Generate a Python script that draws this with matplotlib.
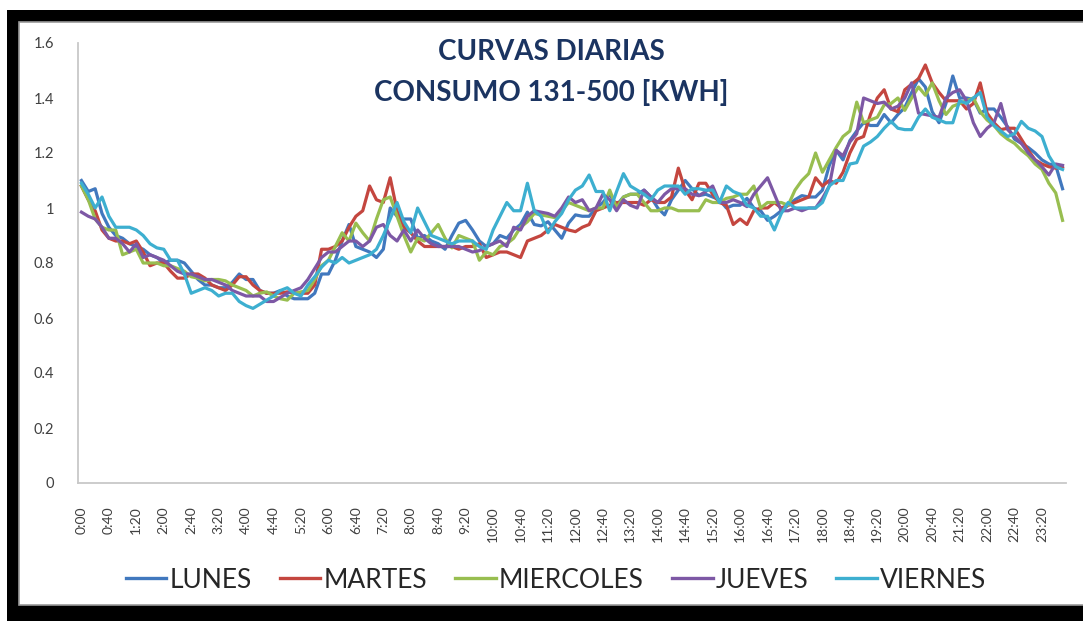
import matplotlib
matplotlib.use("Agg")
import matplotlib.pyplot as plt
from matplotlib.patches import Rectangle
from matplotlib.lines import Line2D

plt.rcParams['font.family'] = ['Lato', 'DejaVu Sans']

# 10-minute categories for one day
times = [f"{i // 6}:{(i % 6) * 10:02d}" for i in range(144)]
tick_step = 4

series_names = ["LUNES", "MARTES", "MIERCOLES", "JUEVES", "VIERNES"]
series_colors = ["#4178BE", "#C4463F", "#98BE50", "#7D58A5", "#3DAFD0"]

lunes = [
    1.10, 1.06, 1.07, 0.98, 0.93, 0.90, 0.89, 0.87, 0.86, 0.85, 0.83, 0.82,
    0.80, 0.81, 0.81, 0.80, 0.77, 0.74, 0.72, 0.72, 0.71, 0.71, 0.73, 0.76,
    0.74, 0.74, 0.70, 0.69, 0.69, 0.70, 0.68, 0.67, 0.67, 0.67, 0.69, 0.76,
    0.76, 0.81, 0.88, 0.94, 0.86, 0.85, 0.84, 0.82, 0.85, 1.00, 0.97, 0.96,
    0.96, 0.89, 0.90, 0.88, 0.87, 0.85, 0.90, 0.945, 0.955, 0.92, 0.88, 0.86,
    0.87, 0.90, 0.89, 0.92, 0.94, 0.985, 0.94, 0.935, 0.95, 0.92, 0.89, 0.945,
    0.975, 0.97, 0.97, 1.00, 1.02, 1.05, 1.01, 1.04, 1.05, 1.05, 1.065, 1.04,
    1.00, 0.975, 1.03, 1.065, 1.10, 1.07, 1.045, 1.05, 1.04, 1.03, 1.00, 1.01,
    1.01, 1.035, 1.00, 0.99, 0.955, 0.97, 0.99, 1.01, 1.03, 1.045, 1.04, 1.04,
    1.065, 1.155, 1.21, 1.175, 1.245, 1.28, 1.31, 1.30, 1.30, 1.34, 1.31, 1.34,
    1.365, 1.42, 1.47, 1.44, 1.35, 1.31, 1.38, 1.48, 1.40, 1.40, 1.395, 1.345,
    1.36, 1.36, 1.33, 1.295, 1.25, 1.235, 1.22, 1.20, 1.175, 1.16, 1.155, 1.07,
]

martes = [
    1.08, 1.03, 0.99, 0.92, 0.89, 0.88, 0.88, 0.87, 0.88, 0.84, 0.79, 0.80,
    0.80, 0.77, 0.745, 0.745, 0.76, 0.76, 0.745, 0.72, 0.71, 0.70, 0.72, 0.75,
    0.75, 0.72, 0.70, 0.69, 0.69, 0.69, 0.695, 0.69, 0.69, 0.69, 0.72, 0.85,
    0.85, 0.86, 0.88, 0.93, 0.97, 0.99, 1.08, 1.03, 1.02, 1.11, 0.99, 0.93,
    0.91, 0.88, 0.86, 0.86, 0.86, 0.86, 0.86, 0.85, 0.86, 0.86, 0.87, 0.82,
    0.83, 0.84, 0.84, 0.83, 0.82, 0.88, 0.89, 0.90, 0.92, 0.94, 0.93, 0.92,
    0.914, 0.93, 0.94, 0.99, 1.00, 1.01, 1.02, 1.02, 1.02, 1.02, 1.01, 1.03,
    1.02, 1.02, 1.04, 1.145, 1.065, 1.03, 1.09, 1.09, 1.05, 1.02, 1.01, 0.94,
    0.96, 0.94, 0.99, 1.00, 1.00, 1.02, 1.00, 1.01, 1.02, 1.03, 1.04, 1.11,
    1.08, 1.10, 1.09, 1.13, 1.20, 1.25, 1.26, 1.34, 1.40, 1.43, 1.36, 1.35,
    1.43, 1.45, 1.47, 1.52, 1.455, 1.42, 1.39, 1.39, 1.39, 1.36, 1.38, 1.455,
    1.345, 1.31, 1.285, 1.29, 1.29, 1.25, 1.21, 1.175, 1.16, 1.15, 1.145, 1.15,
]

miercoles = [
    1.08, 1.03, 0.96, 0.93, 0.92, 0.92, 0.83, 0.84, 0.85, 0.80, 0.80, 0.80,
    0.79, 0.79, 0.78, 0.77, 0.75, 0.745, 0.735, 0.74, 0.74, 0.735, 0.72, 0.71,
    0.70, 0.68, 0.69, 0.695, 0.68, 0.67, 0.665, 0.69, 0.695, 0.70, 0.74, 0.79,
    0.81, 0.86, 0.91, 0.88, 0.945, 0.91, 0.88, 0.96, 1.03, 1.04, 0.97, 0.90,
    0.84, 0.89, 0.88, 0.91, 0.94, 0.89, 0.855, 0.90, 0.89, 0.88, 0.81, 0.84,
    0.83, 0.86, 0.87, 0.89, 0.93, 0.95, 0.98, 0.975, 0.97, 0.965, 0.99, 1.02,
    1.01, 1.00, 0.99, 1.00, 1.00, 1.065, 1.00, 1.04, 1.05, 1.05, 1.02, 0.99,
    0.99, 1.00, 1.00, 0.99, 0.99, 0.99, 0.99, 1.03, 1.02, 1.02, 1.035, 1.04,
    1.05, 1.05, 1.08, 1.00, 1.02, 1.02, 1.02, 1.01, 1.065, 1.10, 1.125, 1.20,
    1.13, 1.175, 1.22, 1.26, 1.28, 1.385, 1.31, 1.32, 1.33, 1.375, 1.38, 1.40,
    1.355, 1.40, 1.44, 1.41, 1.455, 1.39, 1.34, 1.37, 1.38, 1.39, 1.40, 1.35,
    1.32, 1.30, 1.27, 1.25, 1.235, 1.21, 1.19, 1.16, 1.14, 1.09, 1.055, 0.955,
]

jueves = [
    0.985, 0.97, 0.96, 0.93, 0.89, 0.89, 0.87, 0.84, 0.87, 0.82, 0.83, 0.82,
    0.81, 0.79, 0.77, 0.76, 0.76, 0.75, 0.74, 0.74, 0.73, 0.72, 0.70, 0.69,
    0.68, 0.68, 0.68, 0.66, 0.66, 0.675, 0.69, 0.70, 0.71, 0.74, 0.78, 0.82,
    0.84, 0.84, 0.86, 0.88, 0.88, 0.86, 0.88, 0.93, 0.94, 0.90, 0.88, 0.92,
    0.88, 0.92, 0.89, 0.87, 0.86, 0.86, 0.86, 0.86, 0.85, 0.84, 0.845, 0.86,
    0.87, 0.88, 0.86, 0.93, 0.92, 0.97, 0.99, 0.985, 0.98, 0.97, 1.00, 1.04,
    1.02, 1.03, 0.99, 1.00, 1.05, 1.03, 0.99, 1.03, 1.01, 1.00, 1.065, 1.04,
    1.02, 1.05, 1.07, 1.07, 1.07, 1.05, 1.045, 1.06, 1.08, 1.02, 1.02, 1.03,
    1.02, 1.005, 1.05, 1.08, 1.11, 1.05, 0.99, 0.99, 1.00, 0.99, 1.00, 1.00,
    1.035, 1.08, 1.21, 1.19, 1.24, 1.27, 1.40, 1.39, 1.38, 1.385, 1.36, 1.37,
    1.40, 1.455, 1.345, 1.34, 1.335, 1.33, 1.40, 1.42, 1.43, 1.39, 1.31, 1.26,
    1.29, 1.31, 1.38, 1.285, 1.26, 1.235, 1.20, 1.175, 1.15, 1.12, 1.16, 1.155,
]

viernes = [
    1.09, 1.05, 1.00, 1.04, 0.97, 0.93, 0.93, 0.93, 0.92, 0.90, 0.87, 0.855,
    0.85, 0.81, 0.81, 0.76, 0.69, 0.70, 0.71, 0.70, 0.68, 0.69, 0.69, 0.66,
    0.645, 0.635, 0.65, 0.665, 0.68, 0.70, 0.71, 0.69, 0.68, 0.72, 0.75, 0.785,
    0.81, 0.80, 0.82, 0.80, 0.81, 0.82, 0.83, 0.85, 0.90, 0.96, 1.02, 0.95,
    0.91, 1.00, 0.95, 0.90, 0.89, 0.88, 0.87, 0.88, 0.88, 0.88, 0.86, 0.85,
    0.92, 0.97, 1.02, 0.99, 0.99, 1.09, 0.99, 0.97, 0.91, 0.95, 0.98, 1.03,
    1.065, 1.08, 1.12, 1.06, 1.06, 0.99, 1.06, 1.125, 1.08, 1.065, 1.05, 1.03,
    1.065, 1.08, 1.08, 1.08, 1.05, 1.07, 1.07, 1.065, 1.065, 1.02, 1.08, 1.06,
    1.05, 1.01, 1.00, 0.97, 0.97, 0.92, 0.98, 1.02, 1.00, 1.00, 1.00, 1.00,
    1.02, 1.08, 1.10, 1.10, 1.16, 1.165, 1.225, 1.24, 1.26, 1.29, 1.315, 1.29,
    1.285, 1.285, 1.33, 1.36, 1.33, 1.32, 1.31, 1.31, 1.39, 1.38, 1.40, 1.42,
    1.33, 1.30, 1.28, 1.26, 1.27, 1.315, 1.29, 1.28, 1.26, 1.19, 1.15, 1.14,
]

series_values = [lunes, martes, miercoles, jueves, viernes]

y_ticks = [0, 0.2, 0.4, 0.6, 0.8, 1.0, 1.2, 1.4, 1.6]
y_tick_labels = ["0", "0.2", "0.4", "0.6", "0.8", "1", "1.2", "1.4", "1.6"]

title_lines = ["CURVAS DIARIAS", "CONSUMO 131-500 [KWH]"]

W, H = 1083, 621
fig = plt.figure(figsize=(W / 100, H / 100), dpi=100)
fig.patch.set_facecolor("white")

def fx(px):
    return px / W

def fy(py):
    return 1 - py / H

# Black frame and inner white chart area (behind the axes)
fig.add_artist(Rectangle((fx(7), 0), 1.0, fy(10), transform=fig.transFigure,
                         facecolor="black", edgecolor="none", zorder=-5))
fig.add_artist(Rectangle((fx(19), fy(605)), 1.0, fy(22) - fy(605),
                         transform=fig.transFigure, facecolor="white",
                         edgecolor="#9A9A9A", linewidth=1.2, zorder=-4))

ax = fig.add_axes([fx(78), fy(483), fx(1066) - fx(78), fy(43) - fy(483)])
ax.set_zorder(2)
ax.set_facecolor("none")
x = list(range(len(times)))
for name, vals, col in zip(series_names, series_values, series_colors):
    ax.plot(x[:len(vals)], vals, color=col, linewidth=2.3, label=name)

ax.set_xlim(-0.5, len(times) - 0.5)
ax.set_ylim(0, 1.6)
ax.set_yticks(y_ticks)
ax.set_yticklabels(y_tick_labels)
ax.set_xticks(x[::tick_step])
ax.set_xticklabels(times[::tick_step], rotation=90)
ax.tick_params(axis="y", length=0, pad=17, labelsize=10.5, labelcolor="#404040")
ax.tick_params(axis="x", length=0, pad=17, labelsize=10, labelcolor="#404040")
for s in ["top", "right"]:
    ax.spines[s].set_visible(False)
for s in ["left", "bottom"]:
    ax.spines[s].set_color("#C8C8C8")
    ax.spines[s].set_linewidth(1.3)

fig.text(fx(551), fy(52), title_lines[0], ha="center", va="center",
         fontsize=20, fontweight="bold", color="#1B3461")
fig.text(fx(551), fy(92), title_lines[1], ha="center", va="center",
         fontsize=20, fontweight="bold", color="#1B3461")

handles = [Line2D([], [], color=c, linewidth=2.4) for c in series_colors]
leg = fig.legend(handles, series_names, loc="center", bbox_to_anchor=(fx(556), fy(580)),
                 ncol=5, frameon=False, fontsize=19, handlelength=1.55,
                 handletextpad=0.12, columnspacing=1.05, borderaxespad=0)
for t in leg.get_texts():
    t.set_color("#262626")

fig.savefig("out.png", dpi=100, facecolor="white")
